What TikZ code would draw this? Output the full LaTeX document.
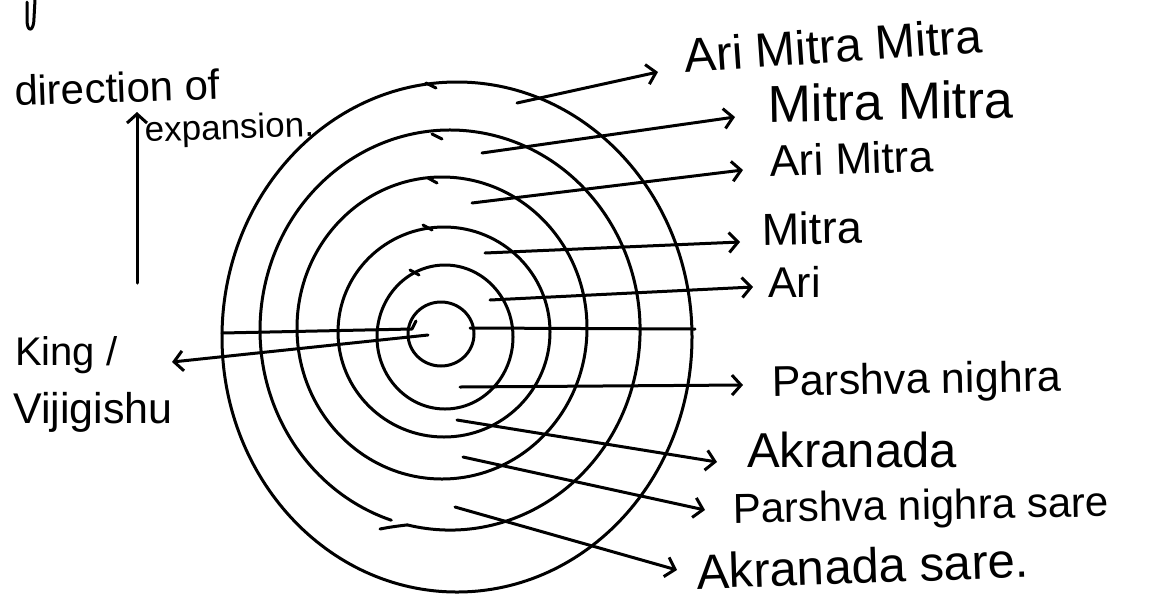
\documentclass[tikz,border=0pt]{standalone}
\usepackage{fontspec}
\setmainfont{Liberation Sans}
\usetikzlibrary{arrows.meta}
\begin{document}
\begin{tikzpicture}[x=1pt,y=-1pt,
  ln/.style={line width=3pt, line cap=round, line join=round},
  arr/.style={ln, -{Straight Barb[length=9pt,width=20pt,line width=3pt]}},
  lab/.style={anchor=base west, inner sep=0pt, font=\fontsize{#1}{#1}\selectfont}]
\fill[white] (0,0) rectangle (1156,598);
\useasboundingbox (0,0) rectangle (1156,598);

% fragment of a letter at the top-left corner
\draw[ln] (27,2) -- (27,20) .. controls (27,33) and (34,32) .. (34,18) -- (35,0);

% rings
\draw[ln] (441,334) ellipse [x radius=33, y radius=32];
\draw[ln] (445,337) ellipse [x radius=68, y radius=72];
\draw[ln] (444,332) ellipse [x radius=106, y radius=105];
\draw[ln] (442,328) ellipse [x radius=145, y radius=151];
\draw[ln] (407.3,524.9) arc [start angle=103, end angle=-252, x radius=190, y radius=200];
\draw[ln] (380,529) .. controls (390,527) and (398,526) .. (407.3,524.9);
\draw[ln] (457,337) ellipse [x radius=235, y radius=255];

% small pen hooks at the ring tops
\draw[ln] (426,83) -- (436,88);
\draw[ln] (432,134) -- (442,139);
\draw[ln] (428,178) -- (437,183);
\draw[ln] (423,225) -- (432,230);
\draw[ln] (410,270) -- (419,275);

% horizontal diameter
\coordinate (hl) at (222,333);
\coordinate (hm) at (412,329);
\coordinate (hk) at (416,321);
\coordinate (hr1) at (470,328);
\coordinate (hr2) at (695,329);
\draw[ln] (hl) -- (hm) -- (hk);
\draw[ln] (hr1) -- (hr2);

% labels
\node[lab=48, rotate=4] (t1) at (685,73) {Ari Mitra Mitra};
\node[lab=52, rotate=1] (t2) at (768,122) {Mitra Mitra};
\node[lab=44, rotate=2] (t3) at (770,177) {Ari Mitra};
\node[lab=45, rotate=1] (t4) at (762,245) {Mitra};
\node[lab=43] (t5) at (768,297) {Ari};
\node[lab=43, rotate=1] (t6) at (772,396) {Parshva nighra};
\node[lab=49] (t7) at (747,467) {Akranada};
\node[lab=42, rotate=1] (t8) at (733,523) {Parshva nighra sare};
\node[lab=49, rotate=2] (t9) at (697,589) {Akranada sare.};
\node[lab=42, rotate=2] (d1) at (15,106) {direction of};
\node[lab=35, rotate=2] (d2) at (145,142) {expansion.};
\node[lab=40] (kg1) at (15,365) {King /};
\node[lab=43] (kg2) at (13,423) {Vijigishu};

% arrow coordinates
\coordinate (s1) at (517,103); \coordinate (e1) at (658,72);
\coordinate (s2) at (482,153); \coordinate (e2) at (735,117);
\coordinate (s3) at (472,203); \coordinate (e3) at (743,170);
\coordinate (s4) at (485,253); \coordinate (e4) at (740,242);
\coordinate (s5) at (490,300); \coordinate (e5) at (753,287);
\coordinate (s6) at (460,387); \coordinate (e6) at (743,385);
\coordinate (s7) at (457,420); \coordinate (e7) at (717,462);
\coordinate (s8) at (463,457); \coordinate (e8) at (705,510);
\coordinate (s9) at (455,507); \coordinate (e9) at (677,570);
\coordinate (ks) at (428,335); \coordinate (ke) at (172,362);
\coordinate (ds) at (137,283); \coordinate (de) at (137,112);

\draw[arr] (s1) -- (e1);
\draw[arr] (s2) -- (e2);
\draw[arr] (s3) -- (e3);
\draw[arr] (s4) -- (e4);
\draw[arr] (s5) -- (e5);
\draw[arr] (s6) -- (e6);
\draw[arr] (s7) -- (e7);
\draw[arr] (s8) -- (e8);
\draw[arr] (s9) -- (e9);
\draw[arr] (ks) -- (ke);
\draw[arr] (ds) -- (de);
\end{tikzpicture}
\end{document}
